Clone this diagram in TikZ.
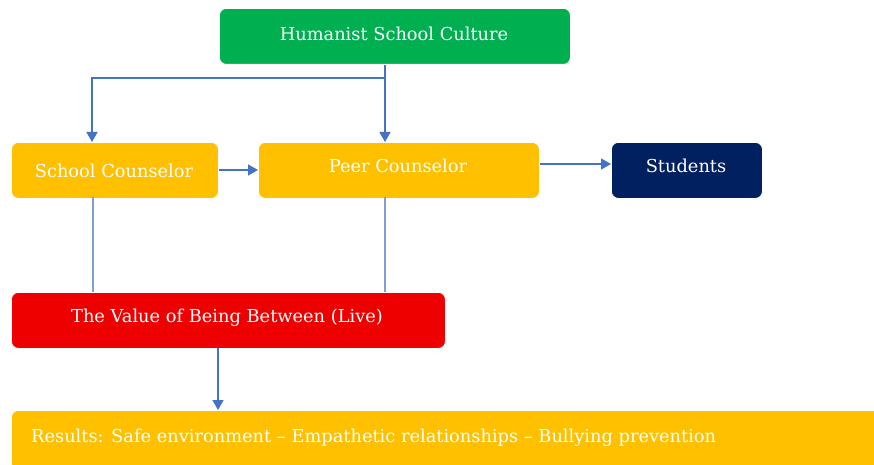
\documentclass[tikz,border=0pt]{standalone}
\usepackage{fontspec}
\setmainfont{DejaVu Serif}
\usetikzlibrary{arrows.meta}
\definecolor{cgreen}{HTML}{00B050}
\definecolor{cyellow}{HTML}{FFC000}
\definecolor{cnavy}{HTML}{002060}
\definecolor{cred}{HTML}{EE0000}
\definecolor{cline}{HTML}{4472C4}
\definecolor{clight}{HTML}{7F9FD8}
\tikzset{
  box/.style={rectangle, rounded corners=7pt, draw=white, line width=0.8pt, text=white,
    inner sep=0pt, anchor=north west},
  lbl/.style={text=white, font=\fontsize{17.8}{20}\selectfont, inner sep=0pt},
  arr/.style={draw=cline, line width=1.5pt, -{Triangle[width=11pt,length=10pt]}},
  ln/.style={draw=clight, line width=1.4pt},
}
\begin{document}
\begin{tikzpicture}[x=1pt,y=-1pt]
\clip (0,0) rectangle (874,465);
\fill[white] (0,0) rectangle (874,465);
\node[box, fill=cgreen, minimum width=351pt, minimum height=56pt] (hsc) at (219,8) {};
\node[lbl] at (394,34) {Humanist School Culture};
\node[box, fill=cyellow, minimum width=207pt, minimum height=56pt] (sc) at (11,142) {};
\node[lbl] at (114,171) {School Counselor};
\node[box, fill=cyellow, minimum width=281pt, minimum height=56pt] (pc) at (258,142) {};
\node[lbl] at (398,166) {Peer Counselor};
\node[box, fill=cnavy, minimum width=151pt, minimum height=56pt] (st) at (611,142) {};
\node[lbl] at (686,166) {Students};
\node[box, fill=cred, minimum width=434pt, minimum height=56pt] (val) at (11,292) {};
\node[lbl] at (227,318) {The Value of Being Between (Live)};
\node[box, fill=cyellow, minimum width=900pt, minimum height=60pt] (res) at (11,410) {};
\node[lbl, anchor=west] at (31,438) {Results: Safe environment -- Empathetic relationships -- Bullying prevention};
\coordinate (j1) at (385,78);
\coordinate (j2) at (92,78);
\draw[arr] (j1 |- hsc.south) -- (j1 |- pc.north);
\draw[arr] (j1) -- (j2) -- (j2 |- sc.north);
\draw[arr] (sc.east |- 0,170) -- (pc.west |- 0,170);
\draw[arr] (pc.east |- 0,164) -- (st.west |- 0,164);
\draw[ln] (93,197) -- (93,292);
\draw[ln] (385,197) -- (385,292);
\draw[arr] (218,348) -- (218,410);
\end{tikzpicture}
\end{document}
